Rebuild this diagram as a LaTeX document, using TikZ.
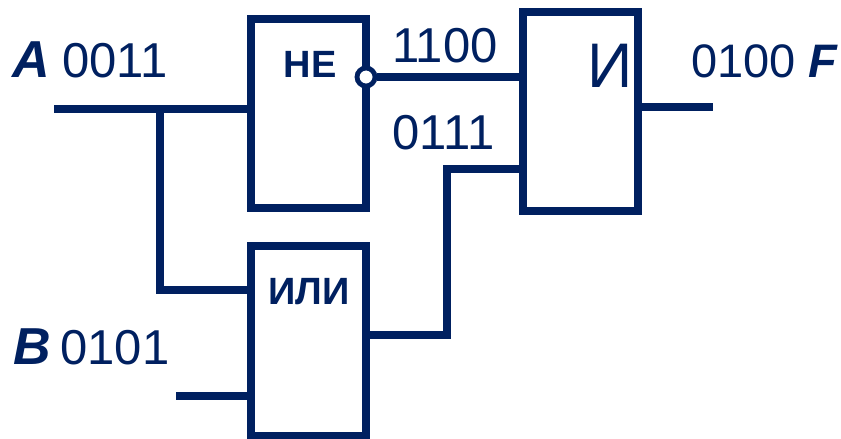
\documentclass[tikz,border=0pt]{standalone}
\usepackage{fontspec}
\setmainfont{Liberation Sans}
\definecolor{gatenavy}{RGB}{0,32,96}
\begin{document}
\begin{tikzpicture}
        [
            x=1pt,
            y=-1pt,
            color=gatenavy,
            gate/.style={rectangle, draw, line width=7.5pt, minimum width=115pt, inner sep=0pt},
            wire/.style={line width=7.5pt},
            bubble/.style={circle, draw, fill=white, line width=4.8pt, minimum size=18pt, inner sep=0pt},
            bits/.style={anchor=base, inner sep=0pt, font=\fontsize{49}{49}\selectfont},
            sigvar/.style={anchor=base, inner sep=0pt, font=\fontsize{52}{52}\selectfont\bfseries\itshape},
            gatename/.style={anchor=base, inner sep=0pt, font=\fontsize{38}{38}\selectfont\bfseries}
        ]
        \useasboundingbox (0,0) rectangle (841,439);

        % gates
        \node[gate, minimum height=189pt] (not) at (308.5,113.5) {};
        \node[gate, minimum height=190pt] (or) at (308.5,341) {};
        \node[gate, minimum height=199pt] (and) at (580.5,111.5) {};
        \node[bubble] (inv) at (366,77) {};

        \node[gatename] (nottxt) at (310,77) {НЕ};
        \node[gatename] (ortxt) at (309,304) {ИЛИ};
        \node[anchor=base, font=\fontsize{63}{63}\selectfont] (andtxt) at (610,87) {И};

        % wires
        \coordinate (A) at (54,109);
        \coordinate (B) at (176,396);
        \coordinate (split) at (160,109);
        \coordinate (orA) at (160,290);
        \coordinate (orout) at (366,335);
        \coordinate (jog) at (447,169);
        \coordinate (F) at (713,107);

        \draw[wire] (A) -- (A -| not.west);
        \draw[wire] (split) |- (orA -| or.west);
        \draw[wire] (B) -- (B -| or.west);
        \draw[wire] (inv.east) -- (inv.east -| and.west);
        \draw[wire] (orout) -| (jog) -- (jog -| and.west);
        \draw[wire] (F -| and.east) -- (F);

        % signal values
        \node[sigvar] (Atxt) at (31,77) {A};
        \node[bits] (Abits) at (115,77) {0011};
        \node[sigvar] (Btxt) at (32,364) {B};
        \node[bits] (Bbits) at (115,364) {0101};
        \node[bits] (notbits) at (445,62) {1100};
        \node[bits] (orbits) at (443.5,149) {0111};
        \node[bits, anchor=base west, font=\fontsize{47}{47}\selectfont] (Fbits) at (691,77) {0100 \textbf{\textit{F}}};

    \end{tikzpicture}
\end{document}
